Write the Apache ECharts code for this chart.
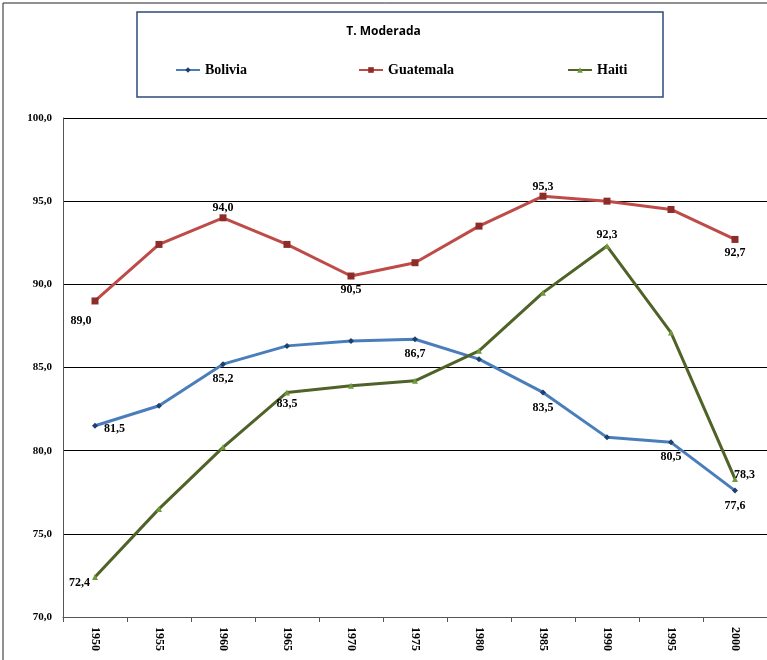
<!DOCTYPE html>
<html lang="es">
<head>
<meta charset="UTF-8">
<title>T. Moderada</title>
<script src="https://cdn.jsdelivr.net/npm/echarts@6/dist/echarts.min.js"></script>
<style>
    body { margin: 0; padding: 0; background: #fff; }
    #main { width: 767px; height: 660px; }
</style>
</head>
<body>
<div id="main"></div>
<script>
    const years = ['1950', '1955', '1960', '1965', '1970', '1975', '1980', '1985', '1990', '1995', '2000'];
    const bolivia = [81.5, 82.7, 85.2, 86.3, 86.6, 86.7, 85.5, 83.5, 80.8, 80.5, 77.6];
    const guatemala = [89.0, 92.4, 94.0, 92.4, 90.5, 91.3, 93.5, 95.3, 95.0, 94.5, 92.7];
    const haiti = [72.4, 76.5, 80.2, 83.5, 83.9, 84.2, 86.0, 89.5, 92.3, 87.1, 78.3];
    const yTicks = [70, 75, 80, 85, 90, 95, 100];

    // which points carry a value label in the original
    const boliviaLabelled = [0, 2, 5, 7, 9, 10];
    const guatemalaLabelled = [0, 2, 4, 7, 10];
    const haitiLabelled = [0, 3, 8, 10];

    const labelFont = {
        fontFamily: 'Liberation Serif',
        fontWeight: 'bold',
        fontSize: 12,
        color: '#000'
    };

    function fmt(v) {
        return v.toFixed(1).replace('.', ',');
    }

    function buildData(values, labelled, placeLabel) {
        return values.map((v, i) => {
            if (labelled.indexOf(i) < 0) return v;
            return {
                value: v,
                label: Object.assign({ show: true, formatter: p => fmt(p.value) }, labelFont, placeLabel(i))
            };
        });
    }

    const boliviaData = buildData(bolivia, boliviaLabelled, i =>
        i === 0 ? { position: 'right', distance: 6, offset: [0, 3] } : { position: 'bottom', distance: 6 });
    const guatemalaData = buildData(guatemala, guatemalaLabelled, i => {
        if (i === 0) return { position: 'bottom', distance: 10, offset: [-14, 0] };
        if (i === 2 || i === 7) return { position: 'top', distance: 0 };
        return { position: 'bottom', distance: 4 };
    });
    const haitiData = buildData(haiti, haitiLabelled, i => {
        if (i === 0) return { position: 'left', distance: 2, offset: [0, 6] };
        if (i === 8) return { position: 'top', distance: 2 };
        if (i === 10) return { position: 'right', distance: 0, offset: [-4, -4] };
        return { position: 'bottom', distance: 2 };
    });

    const myChart = echarts.init(document.getElementById('main'));

    const legendText = {
        fontFamily: 'Liberation Serif',
        fontWeight: 'bold',
        fontSize: 14,
        color: '#000'
    };
    const legendBase = { top: 58, itemWidth: 24, itemHeight: 7, itemGap: 0, textStyle: legendText };

    const option = {
        backgroundColor: '#fff',
        animation: false,
        title: {
            text: 'T. Moderada',
            left: 'center',
            top: 21,
            textStyle: { fontFamily: 'Open Sans', fontWeight: 'bold', fontSize: 12, color: '#000' }
        },
        graphic: [
            {
                type: 'rect',
                shape: { x: 3, y: 3, width: 800, height: 700 },
                style: { fill: 'none', stroke: '#222', lineWidth: 1 },
                silent: true
            },
            {
                type: 'rect',
                shape: { x: 137, y: 12, width: 526, height: 85 },
                style: { fill: 'none', stroke: '#2F4A7A', lineWidth: 1.5 },
                silent: true
            }
        ],
        legend: [
            Object.assign({ data: ['Bolivia'], left: 170 }, legendBase),
            Object.assign({ data: ['Guatemala'], left: 353 }, legendBase),
            Object.assign({ data: ['Haiti'], left: 562 }, legendBase)
        ],
        grid: { left: 63, right: 0, top: 118, bottom: 43 },
        xAxis: {
            type: 'category',
            data: years,
            boundaryGap: true,
            axisLine: { lineStyle: { color: '#555', width: 1 } },
            axisTick: { show: true, length: 5, lineStyle: { color: '#555' } },
            axisLabel: {
                rotate: -90,
                margin: 10,
                fontFamily: 'Liberation Serif',
                fontWeight: 'bold',
                fontSize: 12,
                color: '#000'
            }
        },
        yAxis: {
            type: 'value',
            min: yTicks[0],
            max: yTicks[yTicks.length - 1],
            interval: 5,
            axisLine: { show: true, lineStyle: { color: '#555', width: 1 } },
            axisTick: { show: false },
            splitLine: { lineStyle: { color: '#000', width: 1 } },
            axisLabel: {
                margin: 11,
                formatter: v => fmt(v),
                fontFamily: 'Liberation Serif',
                fontWeight: 'bold',
                fontSize: 11,
                color: '#000'
            }
        },
        series: [
            {
                name: 'Bolivia',
                type: 'line',
                data: boliviaData,
                symbol: 'diamond',
                symbolSize: 6,
                lineStyle: { color: '#4A7EBB', width: 3 },
                itemStyle: { color: '#1F3F6E' }
            },
            {
                name: 'Guatemala',
                type: 'line',
                data: guatemalaData,
                symbol: 'rect',
                symbolSize: 7,
                lineStyle: { color: '#BE4B48', width: 3 },
                itemStyle: { color: '#8C2D2A' }
            },
            {
                name: 'Haiti',
                type: 'line',
                data: haitiData,
                symbol: 'triangle',
                symbolSize: 6,
                lineStyle: { color: '#4F6228', width: 3 },
                itemStyle: { color: '#6E9A3A' }
            }
        ]
    };

    myChart.setOption(option);
</script>
</body>
</html>
